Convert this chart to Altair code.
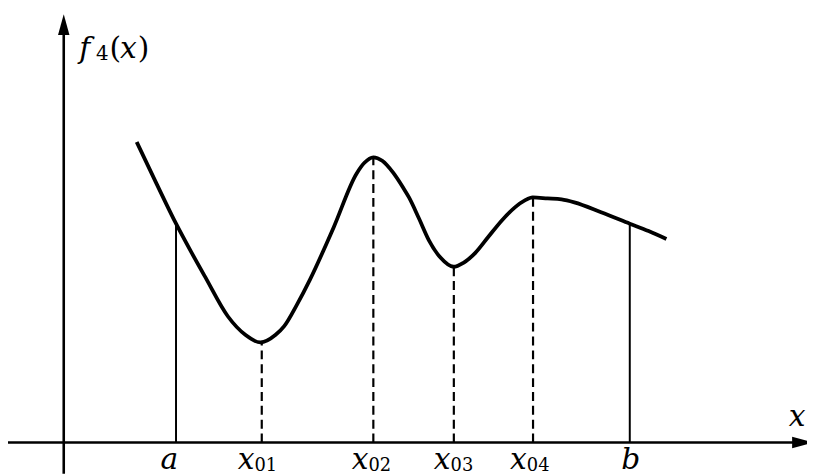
import altair as alt
import pandas as pd

# Curve f4(x): horizontal position and height above the x axis
curve_x = [138, 158, 178, 193, 207, 230, 248, 263, 278, 287, 300, 313, 337, 360, 368,
           377, 386, 397, 407, 413, 423, 433, 445, 458, 468, 480, 493, 507, 520, 530,
           538, 553, 567, 580, 607, 636, 655, 673]
curve_y = [303.5, 261.5, 220.5, 192.5, 167.5, 127.5, 108.5, 101, 108.5, 117.5, 139.5, 164.5,
           217.5, 271.5, 282.5, 288, 284.5, 272.5, 257.5, 247.5, 226.5, 204.5, 186.5, 177.5,
           181.5, 191.5, 207.5, 224.5, 237.5, 244.5, 247.5, 246.5, 245.5, 242.5, 232.5, 221,
           213.5, 205.5]

# Bounds a, b (solid) and extrema x01..x04 (dashed)
bound_x = [177.7, 636]
bound_top = [220.5, 221]
ext_x = [264.3, 377, 458.3, 538.3]
ext_top = [101, 288, 177.5, 247.5]

# Tick-style labels
single_labels = ["a", "b"]
single_label_x = [171, 637]
sub_labels = ["01", "02", "03", "04"]
sub_label_x = [257, 372, 455, 532]

# Axes geometry in data units
x_dom = [8, 815]
y_dom = [-31.5, 436.5]
yaxis_x = 64.3
xaxis_end = 802
yaxis_top = 411.5

X = lambda f="x": alt.X(f, type="quantitative", scale=alt.Scale(domain=x_dom, nice=False, zero=False), axis=None)
Y = lambda f="y": alt.Y(f, type="quantitative", scale=alt.Scale(domain=y_dom, nice=False, zero=False), axis=None)

curve_df = pd.DataFrame({"x": curve_x, "y": curve_y, "o": range(len(curve_x))})
bound_df = pd.DataFrame({"x": bound_x, "y": bound_top, "y0": [0] * len(bound_x)})
ext_df = pd.DataFrame({"x": ext_x, "y": ext_top, "y0": [0] * len(ext_x)})

axes_df = pd.DataFrame({"x": [0, yaxis_x], "x2": [xaxis_end, yaxis_x],
                        "y": [0, y_dom[0]], "y2": [0, yaxis_top]})
arrow_up_df = pd.DataFrame({"x": [yaxis_x], "y": [422]})
arrow_right_df = pd.DataFrame({"x": [810.5], "y": [0]})

single_df = pd.DataFrame({"x": single_label_x, "y": [-27] * 2, "t": single_labels})
subx_df = pd.DataFrame({"x": sub_label_x, "y": [-27] * 4, "t": ["x"] * 4})
sub_df = pd.DataFrame({"x": sub_label_x, "y": [-29] * 4, "t": sub_labels})
xname_df = pd.DataFrame({"x": [805], "y": [16.5], "t": ["x"]})

fname_it = pd.DataFrame({"x": [80, 121], "y": [388.5, 388.5], "t": ["f", "x"]})
fname_rm = pd.DataFrame({"x": [110.5, 139], "y": [388.5, 388.5], "t": ["(", ")"]})
fname_sub = pd.DataFrame({"x": [97], "y": [386], "t": ["4"]})

FONT = "DejaVu Serif"

axes = alt.Chart(axes_df).mark_rule(color="black", strokeWidth=2.6).encode(
    x=X(), x2="x2", y=Y(), y2="y2")

arrow_up = alt.Chart(arrow_up_df).mark_point(
    shape="M0,-1L0.55,1L-0.55,1Z", size=441, filled=True, color="black", opacity=1, strokeWidth=0
).encode(x=X(), y=Y())
arrow_right = alt.Chart(arrow_right_df).mark_point(
    shape="M1,0L-1,-0.55L-1,0.55Z", size=441, filled=True, color="black", opacity=1, strokeWidth=0
).encode(x=X(), y=Y())

bounds = alt.Chart(bound_df).mark_rule(color="black", strokeWidth=2).encode(
    x=X(), y=Y("y0"), y2="y")
extrema = alt.Chart(ext_df).mark_rule(color="black", strokeWidth=2.2, strokeDash=[9, 5]).encode(
    x=X(), y=Y("y0"), y2="y")

curve = alt.Chart(curve_df).mark_line(color="black", strokeWidth=3.8, interpolate="monotone").encode(
    x=X(), y=Y(), order="o:Q")

def txt(df, size, italic, align):
    kw = dict(font=FONT, fontSize=size, align=align, baseline="alphabetic", color="black")
    if italic:
        kw["fontStyle"] = "italic"
    return alt.Chart(df).mark_text(**kw).encode(x=X(), y=Y(), text="t:N")

labels = (
    txt(single_df, 30, True, "center")
    + txt(subx_df, 30, True, "right")
    + txt(sub_df, 18, False, "left")
    + txt(xname_df, 30, True, "center")
    + txt(fname_it, 30, True, "left")
    + txt(fname_rm, 30, False, "left")
    + txt(fname_sub, 20, False, "left")
)

chart = alt.layer(bounds, extrema, axes, arrow_up, arrow_right, curve, labels).properties(
    width=807, height=468, autosize=alt.AutoSizeParams(type="none"), padding=0
).configure_view(stroke=None)

chart.save("out.html", embed_options={"renderer": "svg", "actions": False})
